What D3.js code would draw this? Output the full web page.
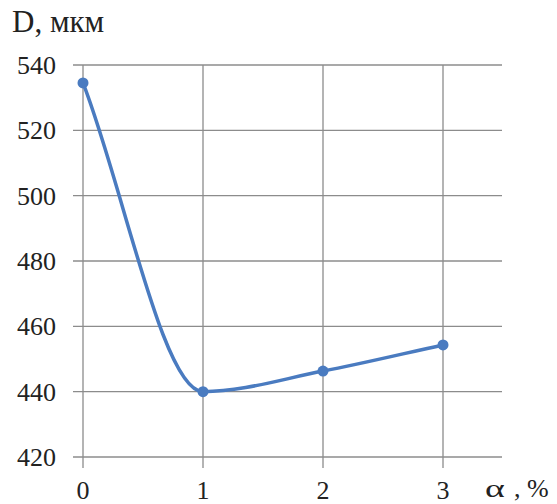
<!DOCTYPE html>
<html>
<head>
<meta charset="utf-8">
<title>D vs alpha</title>
<script src="https://cdnjs.cloudflare.com/ajax/libs/d3/7.8.5/d3.min.js"></script>
<style>
  body { margin: 0; background: #fff; }
  text { font-family: "Liberation Serif", "DejaVu Serif", serif; fill: #222; }
</style>
</head>
<body>
<div id="chart"></div>
<script>
// values
var alphaVals = [0, 1, 2, 3];
var dVals = [534.5, 440, 446.3, 454.3];
var yTicks = [420, 440, 460, 480, 500, 520, 540];
var xTicks = [0, 1, 2, 3];

var W = 557, H = 504;
var svg = d3.select("#chart").append("svg")
  .attr("width", W).attr("height", H);

var x = d3.scaleLinear().domain([0, 3]).range([83, 443]);
var y = d3.scaleLinear().domain([420, 540]).range([457, 65]);

// smooth curve: monotone tangents inside, straight (chord) tangents at the ends
function curveSmooth(context) {
  return {
    areaStart: function() {}, areaEnd: function() {},
    lineStart: function() { this.xs = []; this.ys = []; },
    point: function(px, py) { this.xs.push(+px); this.ys.push(+py); },
    lineEnd: function() {
      var xs = this.xs, ys = this.ys, n = xs.length, s = [], m = [];
      for (var i = 0; i < n - 1; i++) s.push((ys[i + 1] - ys[i]) / (xs[i + 1] - xs[i]));
      m[0] = s[0]; m[n - 1] = s[n - 2];
      for (i = 1; i < n - 1; i++) {
        m[i] = (s[i - 1] * s[i] <= 0) ? 0 : 2 * s[i - 1] * s[i] / (s[i - 1] + s[i]);
      }
      context.moveTo(xs[0], ys[0]);
      for (i = 0; i < n - 1; i++) {
        var h = (xs[i + 1] - xs[i]) / 3;
        context.bezierCurveTo(xs[i] + h, ys[i] + m[i] * h,
                              xs[i + 1] - h, ys[i + 1] - m[i + 1] * h,
                              xs[i + 1], ys[i + 1]);
      }
    }
  };
}

// horizontal grid (sticks out a bit to the left)
svg.append("g").selectAll("line")
  .data(yTicks).enter().append("line")
  .attr("x1", 73).attr("x2", 502)
  .attr("y1", function(d) { return y(d); })
  .attr("y2", function(d) { return y(d); })
  .attr("stroke", "#8c8c8c").attr("stroke-width", 1.3);

// vertical grid (sticks out below)
svg.append("g").selectAll("line")
  .data(xTicks).enter().append("line")
  .attr("x1", function(d) { return x(d); })
  .attr("x2", function(d) { return x(d); })
  .attr("y1", y(540)).attr("y2", y(420) + 11)
  .attr("stroke", "#8c8c8c").attr("stroke-width", 1.3);

// y tick labels
svg.append("g").selectAll("text")
  .data(yTicks).enter().append("text")
  .attr("x", 56)
  .attr("y", function(d) { return y(d) + 9; })
  .attr("text-anchor", "end")
  .style("font-size", "26px")
  .text(function(d) { return d; });

// x tick labels
svg.append("g").selectAll("text")
  .data(xTicks).enter().append("text")
  .attr("x", function(d) { return x(d); })
  .attr("y", 499)
  .attr("text-anchor", "middle")
  .style("font-size", "26px")
  .text(function(d) { return d; });

// axis titles
svg.append("text").attr("x", 12).attr("y", 32)
  .style("font-size", "31px").text("D, мкм");
svg.append("text")
  .attr("transform", "translate(485,497) scale(1.45,1)")
  .style("font-size", "26px").text("α");
svg.append("text").attr("x", 514).attr("y", 497)
  .style("font-size", "26px").text(", %");

var line = d3.line()
  .x(function(d, i) { return x(alphaVals[i]); })
  .y(function(d) { return y(d); })
  .curve(curveSmooth);

svg.append("path")
  .datum(dVals)
  .attr("d", line)
  .attr("fill", "none")
  .attr("stroke", "#4a7bc0")
  .attr("stroke-width", 3.5);

svg.append("g").selectAll("circle")
  .data(dVals).enter().append("circle")
  .attr("cx", function(d, i) { return x(alphaVals[i]); })
  .attr("cy", function(d) { return y(d); })
  .attr("r", 5.5)
  .attr("fill", "#4a7bc0");
</script>
</body>
</html>
